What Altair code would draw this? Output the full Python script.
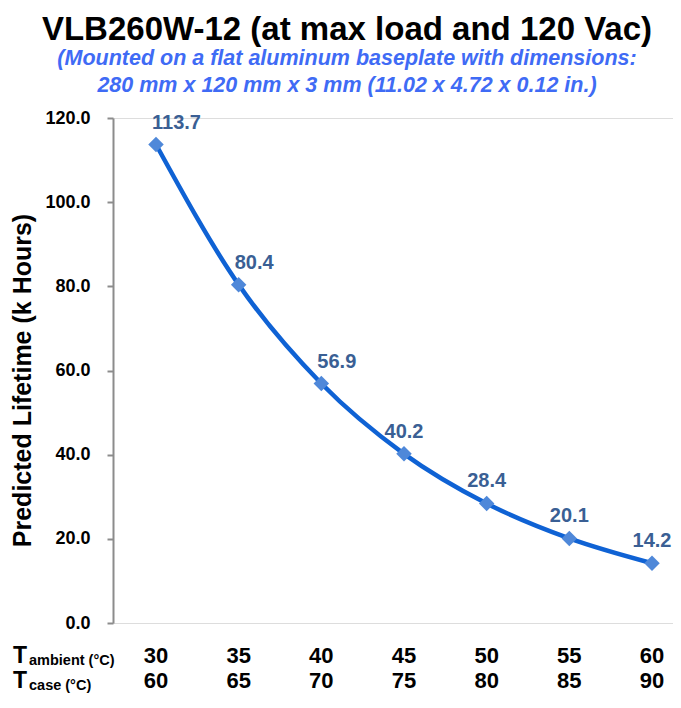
import altair as alt
import pandas as pd

t_ambient = [30, 35, 40, 45, 50, 55, 60]
t_case = [60, 65, 70, 75, 80, 85, 90]
lifetime = [113.7, 80.4, 56.9, 40.2, 28.4, 20.1, 14.2]
y_ticks = [0, 20, 40, 60, 80, 100, 120]

title_text = "VLB260W-12 (at max load and 120 Vac)"
subtitle_lines = [
    "(Mounted on a flat aluminum baseplate with dimensions:",
    "280 mm x 120 mm x 3 mm (11.02 x 4.72 x 0.12 in.)",
]
y_title = "Predicted Lifetime (k Hours)"
row_main = "T"
row_subs = ["ambient (°C)", "case (°C)"]

df = pd.DataFrame({"amb": t_ambient, "case": t_case, "life": lifetime})

W, H = 560, 505
FONT = "Liberation Sans"

x = alt.X("amb:Q", scale=alt.Scale(domain=[27.4, 61.27], nice=False, zero=False), axis=None)
y = alt.Y(
    "life:Q",
    scale=alt.Scale(domain=[0, 120], nice=False),
    axis=alt.Axis(
        values=y_ticks, format=".1f", title=y_title, grid=False,
        domainColor="#8c8c8c", domainWidth=2, tickColor="#8c8c8c", tickWidth=2, tickSize=6,
        labelFont=FONT, labelFontSize=18, labelFontWeight="bold", labelColor="black",
        labelPadding=17, titleFont=FONT, titleFontSize=25, titleFontWeight="bold",
        titleColor="black", titleX=-78, titleY=262, titleAngle=270, titleAlign="center",
        titleBaseline="bottom",
    ),
)

base = alt.Chart(df)
line = base.mark_line(color="#0F62D4", strokeWidth=4.5, interpolate="monotone").encode(x=x, y=y)
pts = base.mark_point(shape="diamond", filled=True, size=240, color="#4F88D9", opacity=1).encode(x=x, y=y)
labels = base.mark_text(
    dy=-22,
    dx=alt.expr("datum.amb <= 40 ? -4 : 0"),
    align=alt.expr("datum.amb <= 40 ? 'left' : 'center'"),
    font=FONT, fontSize=20, fontWeight="bold", color="#3A5F94",
).encode(x=x, y=y, text=alt.Text("life:Q", format=".1f"))
row1 = base.mark_text(font=FONT, fontSize=22, fontWeight="bold", color="black", baseline="alphabetic").encode(
    x=x, y=alt.value(H + 40), text="amb:Q"
)
row2 = base.mark_text(font=FONT, fontSize=22, fontWeight="bold", color="black", baseline="alphabetic").encode(
    x=x, y=alt.value(H + 65), text="case:Q"
)

hdr = pd.DataFrame({"main": [row_main], "s1": [row_subs[0]], "s2": [row_subs[1]]})
hb = alt.Chart(hdr)
t1 = hb.mark_text(font=FONT, fontSize=23, fontWeight="bold", color="black", align="left", baseline="alphabetic").encode(
    x=alt.value(-100), y=alt.value(H + 40), text="main:N")
s1 = hb.mark_text(font=FONT, fontSize=14.5, fontWeight="bold", color="black", align="left", baseline="alphabetic").encode(
    x=alt.value(-84), y=alt.value(H + 42), text="s1:N")
t2 = hb.mark_text(font=FONT, fontSize=23, fontWeight="bold", color="black", align="left", baseline="alphabetic").encode(
    x=alt.value(-100), y=alt.value(H + 65), text="main:N")
s2 = hb.mark_text(font=FONT, fontSize=14.5, fontWeight="bold", color="black", align="left", baseline="alphabetic").encode(
    x=alt.value(-84), y=alt.value(H + 67), text="s2:N")

chart = alt.layer(line, pts, labels, row1, row2, t1, s1, t2, s2).properties(
    width=W, height=H,
    autosize=alt.AutoSizeParams(type="none"),
    padding={"left": 105, "top": 110, "right": 0, "bottom": 73},
    title=alt.TitleParams(
        text=title_text, subtitle=subtitle_lines, font=FONT, fontSize=33, fontWeight="bold",
        color="black", subtitleFont=FONT, subtitleFontSize=21.5, subtitleFontStyle="italic",
        subtitleFontWeight="bold", subtitleColor="#3F6BF5", subtitleLineHeight=27,
        subtitlePadding=1, anchor="middle", dx=-46, offset=13,
    ),
).configure_view(stroke=None).configure(background="white")

chart.save("out.html", embed_options={"renderer": "svg", "actions": False})
